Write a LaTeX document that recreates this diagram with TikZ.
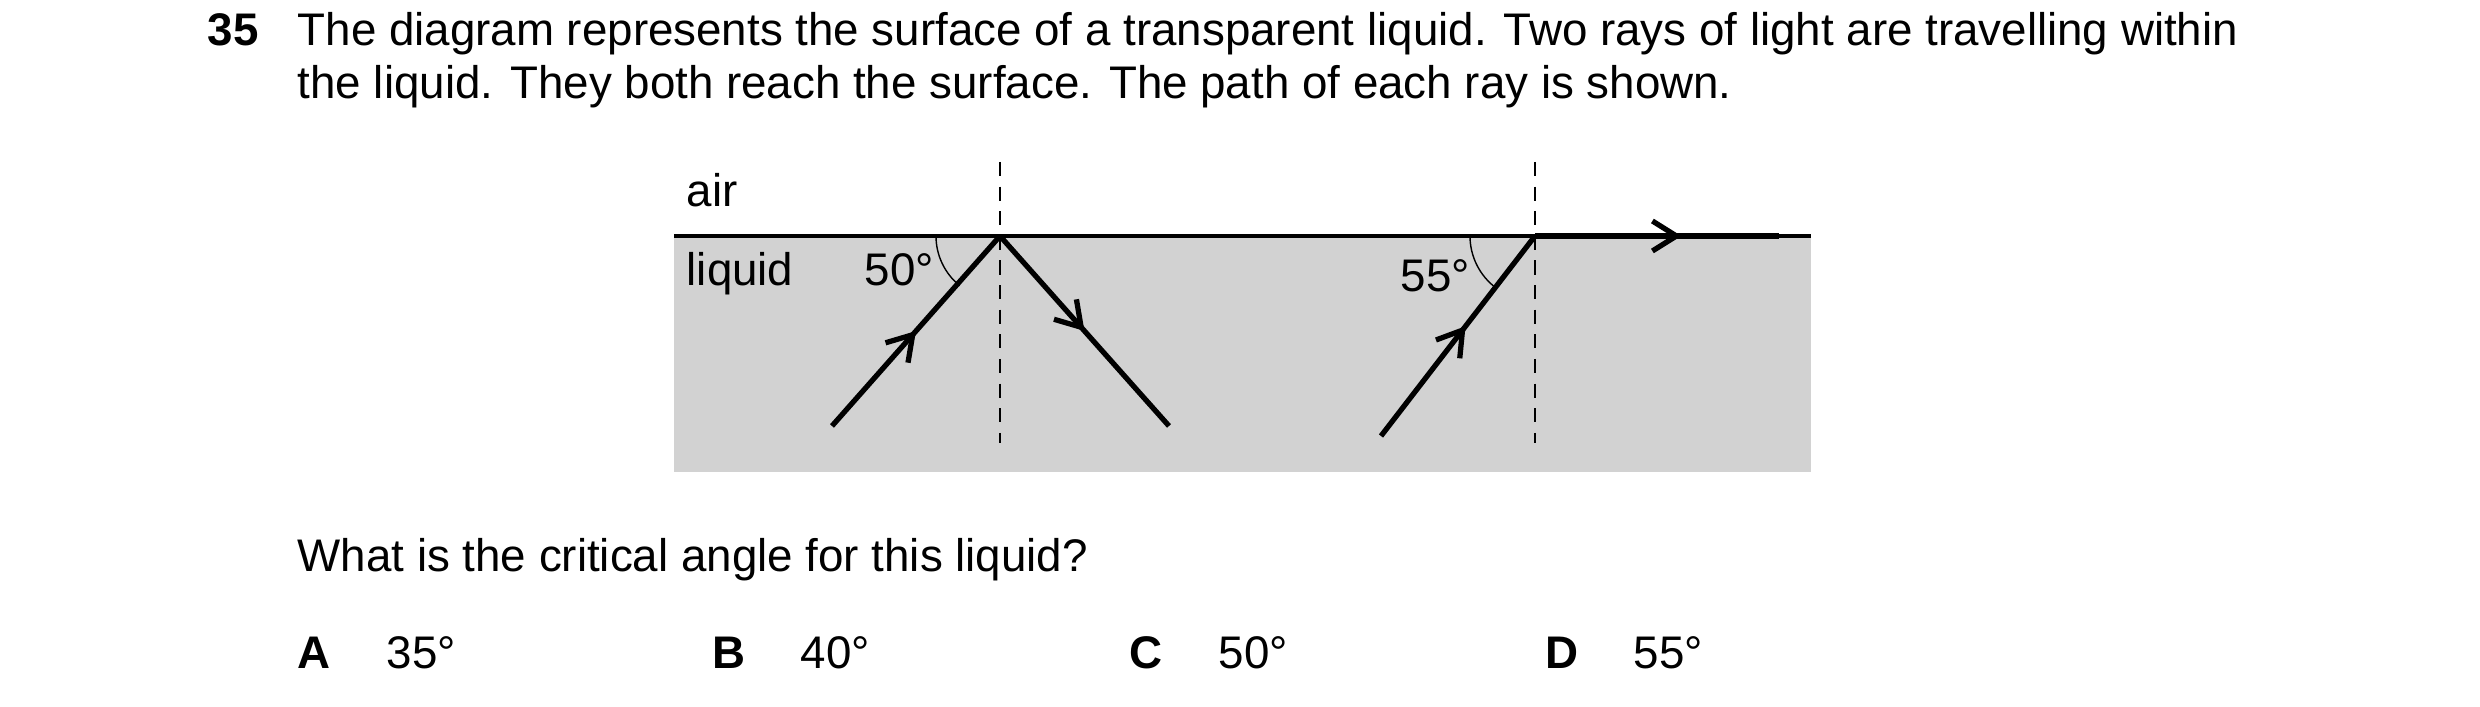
\documentclass[tikz,border=0pt]{standalone}
\usepackage{fontspec}
\setmainfont{Liberation Sans}
\usetikzlibrary{arrows.meta,decorations.markings}
\begin{document}
\begin{tikzpicture}[x=0.01cm,y=-0.01cm,font=\fontsize{13}{15}\selectfont,
  txt/.style={anchor=base west,inner sep=0pt},
  bold/.style={txt,font=\fontsize{13}{15}\selectfont\bfseries},
  ray/.style={line width=1.5pt,postaction={decorate},decoration={markings,
    mark=at position #1 with {\arrow{Straight Barb[length=2.4mm,width=3mm,line width=1.5pt]}}}},
  normal/.style={line width=0.5pt,dash pattern=on 4pt off 3pt}]
\useasboundingbox (0,0) rectangle (2480,707);

% question
\node[bold] (num) at (207,46) {35};
\node[txt] (l1) at (297,46) {The diagram represents the surface of a transparent liquid. Two rays of light are travelling within};
\node[txt] (l2) at (297,99) {the liquid. They both reach the surface. The path of each ray is shown.};

% liquid and surface
\fill[gray!35!white] (674,236) rectangle (1811,472);
\draw[line width=1.1pt] (674,236) -- (1811,236);
\coordinate (p1) at (1000,236);
\coordinate (p2) at (1535,236);
\draw[normal] (1000,162) -- (1000,443);
\draw[normal] (1535,162) -- (1535,443);

% rays
\coordinate (s1) at (832,426);
\coordinate (e1) at (1169,426);
\coordinate (s2) at (1381,436);
\coordinate (e2) at (1779,236);
\draw[ray=0.5] (s1) -- (p1);
\draw[ray=0.5] (p1) -- (e1);
\draw[ray=0.55] (s2) -- (p2);
\draw[ray=0.6] (p2) -- (e2);

% angles
\draw[line width=0.4pt] (936,236) arc[start angle=180,end angle=129,radius=64];
\draw[line width=0.4pt] (1470,236) arc[start angle=180,end angle=127,radius=65];

\node[txt] (air) at (686,207) {air};
\node[txt] (liq) at (686,286) {liquid};
\node[txt] (a1) at (864,286) {50°};
\node[txt] (a2) at (1400,292) {55°};

% answer
\node[txt] (q) at (297,572) {What is the critical angle for this liquid?};
\node[bold] (oa) at (297,669) {A};
\node[txt] (va) at (386,669) {35°};
\node[bold] (ob) at (712,669) {B};
\node[txt] (vb) at (800,669) {40°};
\node[bold] (oc) at (1129,669) {C};
\node[txt] (vc) at (1218,669) {50°};
\node[bold] (od) at (1545,669) {D};
\node[txt] (vd) at (1633,669) {55°};
\end{tikzpicture}
\end{document}
